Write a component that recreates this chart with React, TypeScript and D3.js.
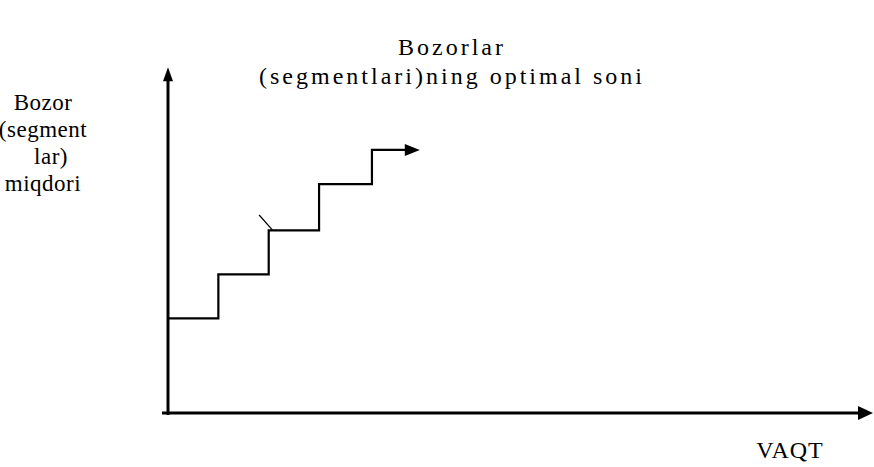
import React from 'react';
import * as d3 from 'd3';

// step chart: number of markets (segments) grows over time
const stepStarts = [0, 1, 2, 3, 4.05];
const stepEnd = 5;
const stepLevels = [2.15, 3.15, 4.15, 5.2, 5.98];

const titleLines = ['Bozorlar', '(segmentlari)ning optimal soni'];
const yLabelLines = ['Bozor', '(segment', 'lar)', 'miqdori'];
const xLabel = 'VAQT';

// stray pen mark at the third step
const strayMark = [
  { t: 1.81, v: 4.5 },
  { t: 2.08, v: 4.15 },
];

const W = 874;
const H = 467;
const FONT = "'Liberation Serif', 'DejaVu Serif', 'Times New Roman', serif";

const App: React.FC = () => {
  const x = d3.scaleLinear().domain([0, 14]).range([168, 873]);
  const y = d3.scaleLinear().domain([0, 8]).range([413, 61]);

  const pts: [number, number][] = [];
  stepStarts.forEach((t, i) => {
    const next = i < stepStarts.length - 1 ? stepStarts[i + 1] : stepEnd;
    pts.push([t, stepLevels[i]]);
    pts.push([next, stepLevels[i]]);
  });
  const line = d3.line<[number, number]>()
    .x(d => x(d[0]))
    .y(d => y(d[1]));

  const arrowLen = 15;
  const lastX = x(stepEnd);
  const lastY = y(stepLevels[stepLevels.length - 1]);
  const stepPath = line(pts.slice(0, -1).concat([[x.invert(lastX - arrowLen + 2), stepLevels[stepLevels.length - 1]]])) || '';

  const x0 = x(0);
  const y0 = y(0);
  const yTop = y(7.86);
  const xRight = x(14);

  return (
    <svg width={W} height={H} style={{ position: 'absolute', left: 0, top: 0, background: '#fff' }}>
      {/* y axis */}
      <line x1={x0} x2={x0} y1={y0 + 2} y2={yTop + 12} stroke="#000" strokeWidth={3} />
      <path d={`M${x0},${yTop} L${x0 - 5},${yTop + 14} L${x0 + 5},${yTop + 14} Z`} fill="#000" />
      {/* x axis */}
      <line x1={x0 - 6} x2={xRight - 12} y1={y0} y2={y0} stroke="#000" strokeWidth={3} />
      <path d={`M${xRight},${y0} L${xRight - 15},${y0 - 7} L${xRight - 15},${y0 + 7} Z`} fill="#000" />

      {/* steps */}
      <path d={stepPath} fill="none" stroke="#000" strokeWidth={2.2} strokeLinejoin="miter" />
      <path d={`M${lastX},${lastY} L${lastX - arrowLen},${lastY - 6} L${lastX - arrowLen},${lastY + 6} Z`} fill="#000" />
      <line
        x1={x(strayMark[0].t)} y1={y(strayMark[0].v)}
        x2={x(strayMark[1].t)} y2={y(strayMark[1].v)}
        stroke="#000" strokeWidth={1.2}
      />

      {/* title */}
      {titleLines.map((t, i) => (
        <text key={t} x={452} y={55 + i * 29} textAnchor="middle"
          style={{ fontFamily: FONT, fontSize: 24, letterSpacing: '3px' }}>{t}</text>
      ))}

      {/* y label */}
      {yLabelLines.map((t, i) => (
        <text key={t} x={i === 2 ? 51 : 43} y={110 + i * 27} textAnchor="middle"
          style={{ fontFamily: FONT, fontSize: 23, letterSpacing: '0.5px' }}>{t}</text>
      ))}

      <text x={790} y={458} textAnchor="middle"
        style={{ fontFamily: FONT, fontSize: 24, letterSpacing: '1px' }}>{xLabel}</text>
    </svg>
  );
};

export default App;
